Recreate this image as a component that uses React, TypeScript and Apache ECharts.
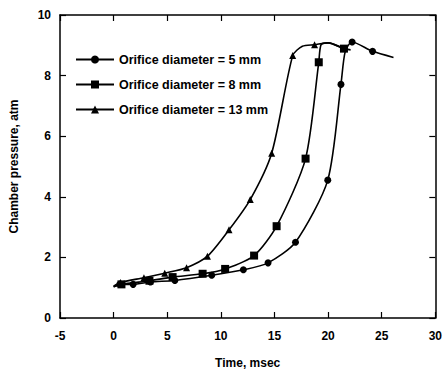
import React, { useEffect, useRef } from "react";
import * as echarts from "echarts";

// Orifice diameter = 5 mm (circles)
const t5 = [0, 0.58, 1.82, 3.43, 5.71, 9.15, 12.1, 14.4, 16.96, 19.97, 21.2, 21.6, 22.24, 24.15, 26.1];
const p5 = [1.03, 1.11, 1.11, 1.19, 1.24, 1.41, 1.59, 1.82, 2.5, 4.55, 7.71, 8.8, 9.11, 8.8, 8.6];
const m5 = [0, 1, 1, 1, 1, 1, 1, 1, 1, 1, 1, 0, 1, 1, 0];

// Orifice diameter = 8 mm (squares)
const t8 = [0, 0.73, 3.34, 5.5, 8.3, 10.4, 13.1, 15.2, 17.9, 19.13, 19.35, 20.0, 21.48];
const p8 = [1.03, 1.11, 1.23, 1.35, 1.46, 1.62, 2.06, 3.03, 5.26, 8.44, 9.02, 9.08, 8.89];
const m8 = [0, 1, 1, 1, 1, 1, 1, 1, 1, 1, 0, 0, 1];

// Orifice diameter = 13 mm (triangles)
const t13 = [0, 0.64, 2.83, 4.77, 6.8, 8.75, 10.76, 12.74, 14.74, 16.7, 17.6, 18.74, 20.0, 21.48, 22.1];
const p13 = [1.05, 1.17, 1.33, 1.48, 1.66, 2.04, 2.91, 3.91, 5.44, 8.66, 8.97, 9.02, 9.08, 8.89, 8.85];
const m13 = [0, 1, 1, 1, 1, 1, 1, 1, 1, 1, 0, 1, 0, 0, 0];

const names = ["Orifice diameter = 5 mm", "Orifice diameter = 8 mm", "Orifice diameter = 13 mm"];
const xTicks = { min: -5, max: 30, interval: 5 };
const yTicks = { min: 0, max: 10, interval: 2 };

const FONT = "Liberation Sans, Arial, sans-serif";

function build(t: number[], p: number[], m: number[]) {
  return t.map((x, i) => (m[i] ? { value: [x, p[i]] } : { value: [x, p[i]], symbol: "none" }));
}

export default function App() {
  const ref = useRef<HTMLDivElement>(null);
  useEffect(() => {
    if (!ref.current) return;
    const chart = echarts.init(ref.current, null, { renderer: "svg" });
    const axisLine = { show: true, onZero: false, lineStyle: { color: "#000", width: 1.5 } };
    const tick = { show: true, inside: true, length: 6, lineStyle: { color: "#000", width: 1.2 } };
    const seriesBase = {
      type: "line",
      smooth: 0.25,
      lineStyle: { color: "#000", width: 1.6 },
      itemStyle: { color: "#000" },
      emphasis: { disabled: true },
    };
    chart.setOption({
      animation: false,
      backgroundColor: "#fff",
      grid: { left: 57, right: 3, top: 15, bottom: 54 },
      legend: {
        left: 70,
        top: 48,
        orient: "vertical",
        itemWidth: 38,
        itemHeight: 10,
        itemGap: 12,
        textStyle: { fontFamily: FONT, fontSize: 12.5, color: "#000", fontWeight: "bold" },
        data: names,
      },
      xAxis: [
        {
          type: "value",
          ...xTicks,
          name: "Time, msec",
          nameLocation: "middle",
          nameGap: 39,
          nameTextStyle: { fontFamily: FONT, fontSize: 12, fontWeight: "bold", color: "#000" },
          axisLine,
          axisTick: tick,
          splitLine: { show: false },
          axisLabel: { margin: 12, fontFamily: FONT, fontSize: 12, fontWeight: "bold", color: "#000" },
        },
        {
          type: "value",
          position: "top",
          ...xTicks,
          axisLine,
          axisTick: tick,
          splitLine: { show: false },
          axisLabel: { show: false },
        },
      ],
      yAxis: [
        {
          type: "value",
          ...yTicks,
          name: "Chamber pressure, atm",
          nameLocation: "middle",
          nameGap: 40,
          nameTextStyle: { fontFamily: FONT, fontSize: 12, fontWeight: "bold", color: "#000" },
          axisLine,
          axisTick: tick,
          splitLine: { show: false },
          axisLabel: { margin: 9, fontFamily: FONT, fontSize: 12, fontWeight: "bold", color: "#000" },
        },
        {
          type: "value",
          position: "right",
          ...yTicks,
          axisLine,
          axisTick: tick,
          splitLine: { show: false },
          axisLabel: { show: false },
        },
      ],
      series: [
        { ...seriesBase, name: names[0], symbol: "circle", symbolSize: 7, data: build(t5, p5, m5) },
        { ...seriesBase, name: names[1], symbol: "rect", symbolSize: 8, data: build(t8, p8, m8) },
        { ...seriesBase, name: names[2], symbol: "triangle", symbolSize: 7, data: build(t13, p13, m13) },
      ],
    });
    return () => chart.dispose();
  }, []);
  return <div ref={ref} style={{ width: 445, height: 374, position: "absolute", left: 0, top: 0 }} />;
}
